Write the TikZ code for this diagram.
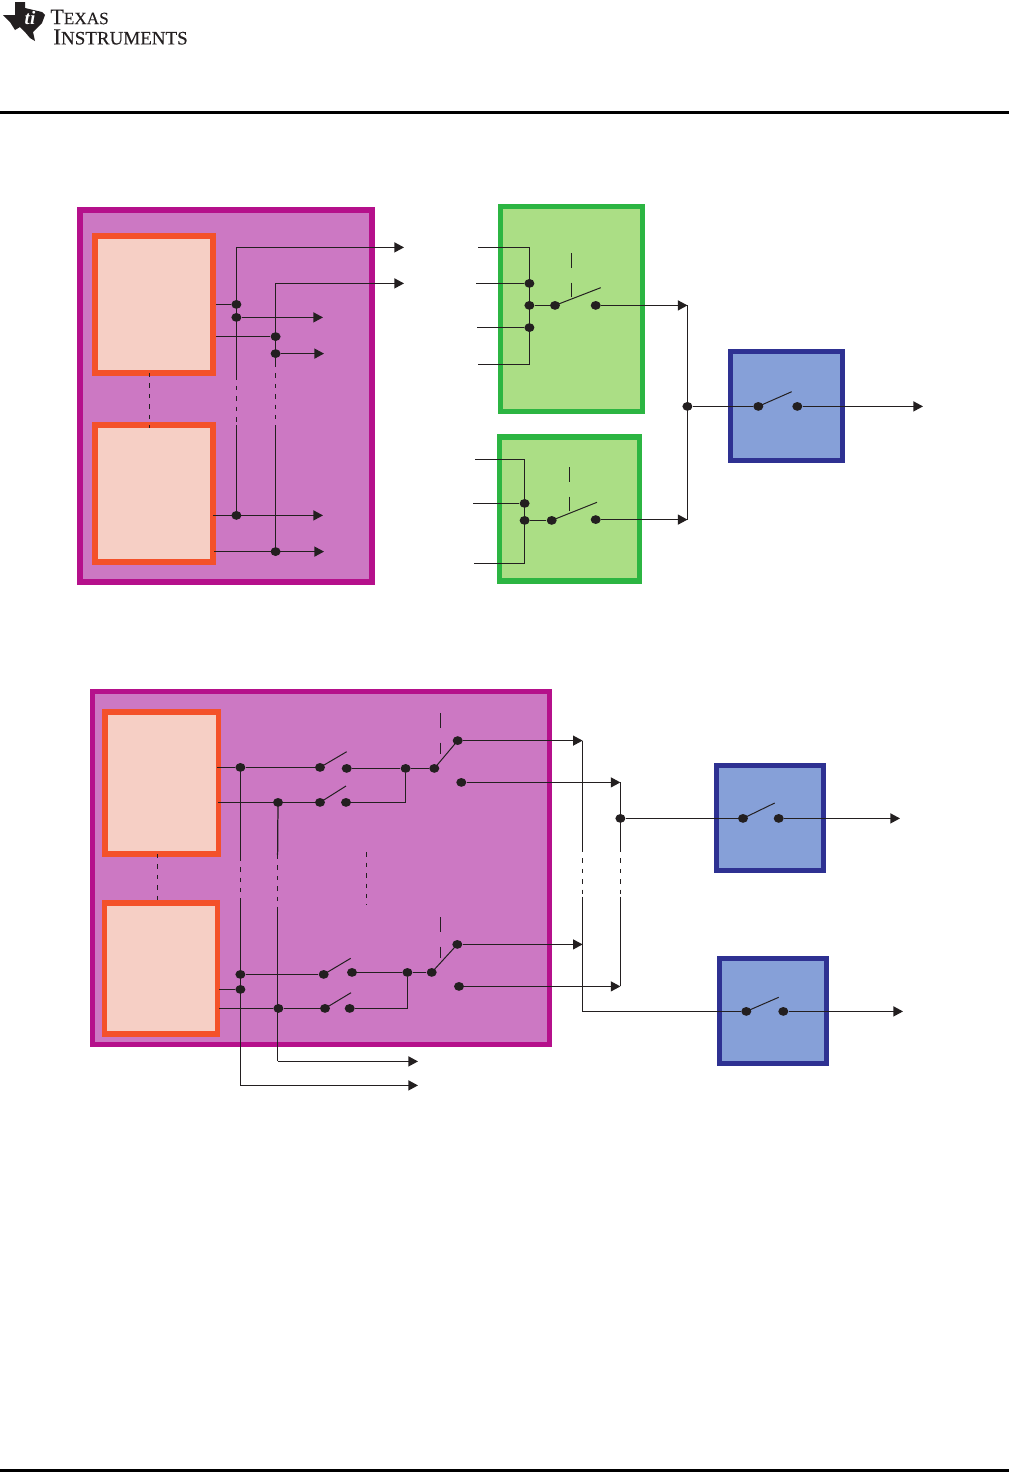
\documentclass[tikz,border=0pt]{standalone}
\usepackage{xcolor}
\usepackage{fontspec}
\setmainfont{Liberation Serif}
\newfontfamily\logofont[FakeBold=0.25]{Liberation Serif}
\usetikzlibrary{shapes.geometric,arrows.meta,positioning}
\definecolor{devpurple}{HTML}{B5108B}
\definecolor{devfill}{HTML}{CC78C3}
\definecolor{fetorange}{HTML}{F4512A}
\definecolor{fetfill}{HTML}{F6CFC5}
\definecolor{muxgreen}{HTML}{2CB542}
\definecolor{muxfill}{HTML}{ABDE85}
\definecolor{xbarblue}{HTML}{2E3192}
\definecolor{xbarfill}{HTML}{86A0D8}
\definecolor{inkline}{HTML}{231F20}
\tikzset{
  panel/.style={draw, line width=2.8pt, line join=miter},
  devbox/.style={panel, draw=devpurple, fill=devfill},
  fetbox/.style={panel, draw=fetorange, fill=fetfill},
  muxbox/.style={panel, draw=muxgreen, fill=muxfill},
  xbarbox/.style={panel, draw=xbarblue, fill=xbarfill},
  pin/.style={ellipse, fill=inkline, inner sep=0pt, minimum width=5pt, minimum height=4.4pt},
  wire/.style={draw=inkline, line width=0.62pt},
  sig/.style={wire, -{Triangle[length=4.8pt,width=5pt]}},
  gap/.style={wire, dash pattern=on 2.2pt off 3pt},
  ctrl/.style={wire, dash pattern=on 7.3pt off 7.5pt},
  blade/.style={draw=inkline, line width=0.5pt}
}
\begin{document}
\begin{tikzpicture}[x=0.5pt, y=-0.5pt]
  \useasboundingbox (0,0) rectangle (1008,1472);
  % page furniture
  \fill[black] (-1,111) rectangle (1009,114);
  \fill[black] (-1,1468.5) rectangle (1009,1473);
  \fill[inkline] (3,15) -- (15,15) -- (15,2) -- (25,2) -- (25,8) -- (42,12) -- (45,15) -- (42,23) -- (33,32) -- (35,41) -- (30,38) -- (25,32) -- (20,27) -- (15,30) -- (10,22) -- cycle;
  \node[white, font=\bfseries\itshape\fontsize{9.5pt}{9.5pt}\selectfont, inner sep=0pt] (logomark) at (30,18) {ti};
  \node[anchor=west, inner sep=0pt, font=\logofont\fontsize{11pt}{11pt}\selectfont, text=inkline] (logotop) at (50,17) {T\fontsize{8.6pt}{8.6pt}\selectfont EXAS};
  \node[anchor=west, inner sep=0pt, font=\logofont\fontsize{11.5pt}{11.5pt}\selectfont, text=inkline] (logobot) at (53,37) {I\fontsize{9.5pt}{9.5pt}\selectfont NSTRUMENTS};

  % upper drawing, boxes
  \draw[devbox] (80,210) rectangle (372,582);
  \draw[fetbox] (95,236) rectangle (213,373);
  \draw[fetbox] (95,425) rectangle (213,562);
  \draw[muxbox] (500.5,206.5) rectangle (642.5,411.5);
  \draw[muxbox] (499.5,437) rectangle (639.5,581);
  \draw[xbarbox] (730.5,351.5) rectangle (842.5,460.5);

  % upper drawing, source side
  \node[pin] (ua1) at (236.4,304.4) {};
  \node[pin] (ua2) at (236.4,317.4) {};
  \node[pin] (ua3) at (236.4,515.4) {};
  \node[pin] (ub1) at (275.6,336.6) {};
  \node[pin] (ub2) at (275.6,353.6) {};
  \node[pin] (ub3) at (275.6,551.6) {};
  \coordinate (uat) at (236.4,247.4);
  \coordinate (uac) at (236.4,375.5);
  \coordinate (uad) at (236.4,425);
  \coordinate (ubt) at (275.6,283.4);
  \coordinate (ubc) at (275.6,363);
  \coordinate (ubd) at (275.6,430);
  \coordinate (fa) at (149.4,373);
  \coordinate (fb) at (149.4,428);
  \coordinate (outa) at (404,247.4);
  \coordinate (outb) at (404,283.4);
  \draw[gap] (fa) -- (fb);
  \draw[wire] (uat) -- (ua1.center) -- (ua2.center) -- (uac);
  \draw[gap] (uac) -- (uad);
  \draw[wire] (uad) -- (ua3.center);
  \draw[wire] (ubt) -- (ub1.center) -- (ub2.center) -- (ubc);
  \draw[gap] (ubc) -- (ubd);
  \draw[wire] (ubd) -- (ub3.center);
  \draw[sig] (uat) -- (outa);
  \draw[sig] (ubt) -- (outb);
  \coordinate (ss1) at (216,304.4);
  \coordinate (ss2) at (216,336.6);
  \coordinate (ss3) at (213,515.4);
  \coordinate (ss4) at (214,551.6);
  \coordinate (se1) at (323,317.4);
  \coordinate (se2) at (324,353.6);
  \coordinate (se3) at (323,515.4);
  \coordinate (se4) at (324,551.6);
  \draw[wire] (ss1) -- (ua1);
  \draw[wire] (ss2) -- (ub1);
  \draw[sig] (ua2) -- (se1);
  \draw[sig] (ub2) -- (se2);
  \draw[sig] (ss3) -- (se3);
  \draw[sig] (ss4) -- (se4);

  % upper drawing, mux 1
  \coordinate (m1a) at (478,247.4);
  \coordinate (m1b) at (476,283.4);
  \coordinate (m1c) at (477,327.6);
  \coordinate (m1d) at (478,364.4);
  \node[pin] (m1p1) at (529.4,283.4) {};
  \node[pin] (m1p2) at (529.4,305.4) {};
  \node[pin] (m1p3) at (529.4,327.6) {};
  \node[pin] (m1sl) at (555,305.4) {};
  \node[pin] (m1sr) at (595.7,305.4) {};
  \draw[wire] (m1a) -| (m1p1.center) -- (m1p2.center) -- (m1p3.center) |- (m1d);
  \draw[wire] (m1b) -- (m1p1);
  \draw[wire] (m1c) -- (m1p3);
  \draw[wire] (m1p2) -- (m1sl);
  \coordinate (m1tip) at (600.7,287.7);
  \draw[blade] (m1sl.center) -- (m1tip);
  \coordinate (m1ct) at (571.4,253);
  \coordinate (m1cb) at (571.4,298);
  \draw[ctrl] (m1ct) -- (m1cb);

  % upper drawing, mux 2
  \coordinate (m2a) at (475,459.4);
  \coordinate (m2b) at (473,503.4);
  \coordinate (m2c) at (474,563.4);
  \node[pin] (m2p1) at (524.6,503.4) {};
  \node[pin] (m2p2) at (524.6,520.4) {};
  \node[pin] (m2sl) at (551.7,520.4) {};
  \node[pin] (m2sr) at (595.7,519.6) {};
  \draw[wire] (m2a) -| (m2p1.center) -- (m2p2.center) |- (m2c);
  \draw[wire] (m2b) -- (m2p1);
  \draw[wire] (m2p2) -- (m2sl);
  \coordinate (m2tip) at (597,502.3);
  \draw[blade] (m2sl.center) -- (m2tip);
  \coordinate (m2ct) at (569.4,467);
  \coordinate (m2cb) at (569.4,511);
  \draw[ctrl] (m2ct) -- (m2cb);

  % upper drawing, output stage
  \coordinate (bust) at (687.5,305.4);
  \coordinate (busb) at (687.5,519.6);
  \node[pin] (busj) at (687.4,406.4) {};
  \node[pin] (xsl) at (758.3,406.4) {};
  \node[pin] (xsr) at (797.3,406.4) {};
  \coordinate (xtip) at (791.7,391.7);
  \coordinate (xout) at (923,406.4);
  \draw[sig] (m1sr) -- (bust);
  \draw[sig] (m2sr) -- (busb);
  \draw[wire] (bust) -- (busb);
  \draw[wire] (busj) -- (xsl);
  \draw[blade] (xsl.center) -- (xtip);
  \draw[sig] (xsr) -- (xout);

  % lower drawing, boxes
  \draw[devbox] (92.5,691.5) rectangle (549.5,1044.5);
  \draw[fetbox] (105,712) rectangle (218.5,854);
  \draw[fetbox] (104.5,903) rectangle (217.5,1034);
  \draw[xbarbox] (716.5,765.5) rectangle (823.5,870.5);
  \draw[xbarbox] (719.5,958.5) rectangle (826.5,1063.5);

  % lower drawing, first channel pair
  \node[pin] (lc1) at (240.4,767.4) {};
  \node[pin] (lc2) at (278,802.4) {};
  \node[pin] (s1l) at (320,767.4) {};
  \node[pin] (s1r) at (346.7,768.4) {};
  \node[pin] (s2l) at (320,802.4) {};
  \node[pin] (s2r) at (346,802.4) {};
  \node[pin] (j1) at (405.6,768.4) {};
  \node[pin] (t1c) at (434.3,768.4) {};
  \node[pin] (t1a) at (457.7,740.6) {};
  \node[pin] (t1b) at (461.3,782.4) {};
  \coordinate (ls1) at (217,767.4);
  \coordinate (ls2) at (218,802.4);
  \coordinate (s1tip) at (346.7,751.7);
  \coordinate (s2tip) at (346,786);
  \coordinate (t1ct) at (440.4,713);
  \coordinate (t1cb) at (440.4,754.3);
  \draw[wire] (ls1) -- (lc1) -- (s1l);
  \draw[wire] (ls2) -- (lc2) -- (s2l);
  \draw[blade] (s1l.center) -- (s1tip);
  \draw[blade] (s2l.center) -- (s2tip);
  \draw[wire] (s1r) -- (j1) -- (t1c);
  \draw[wire] (s2r) -| (j1);
  \draw[blade] (t1c.center) -- (t1a.center);
  \draw[ctrl] (t1ct) -- (t1cb);

  % lower drawing, last channel pair
  \node[pin] (lc3) at (240.4,974.4) {};
  \node[pin] (lc4) at (240.4,989.4) {};
  \node[pin] (lc5) at (278.4,1008.4) {};
  \node[pin] (s4l) at (323.7,974.4) {};
  \node[pin] (s4r) at (352,972.4) {};
  \node[pin] (s5l) at (325,1008.4) {};
  \node[pin] (s5r) at (349.7,1008.4) {};
  \node[pin] (j2) at (407.4,972.4) {};
  \node[pin] (t2c) at (431.7,972.4) {};
  \node[pin] (t2a) at (457.3,944.4) {};
  \node[pin] (t2b) at (459,986.4) {};
  \coordinate (ls4) at (219,989.4);
  \coordinate (ls5) at (219,1008.4);
  \coordinate (s4tip) at (350.7,958.3);
  \coordinate (s5tip) at (351,992.7);
  \coordinate (t2ct) at (440.4,917);
  \coordinate (t2cb) at (440.4,958.3);
  \draw[wire] (lc3) -- (s4l);
  \draw[wire] (ls4) -- (lc4);
  \draw[wire] (ls5) -- (lc5) -- (s5l);
  \draw[blade] (s4l.center) -- (s4tip);
  \draw[blade] (s5l.center) -- (s5tip);
  \draw[wire] (s4r) -- (j2) -- (t2c);
  \draw[wire] (s5r) -| (j2);
  \draw[blade] (t2c.center) -- (t2a.center);
  \draw[ctrl] (t2ct) -- (t2cb);

  % lower drawing, verticals with gaps
  \coordinate (vaa) at (240.4,856.7);
  \coordinate (vab) at (240.4,903);
  \coordinate (vac) at (240.4,1085.4);
  \coordinate (vbb) at (277.6,855);
  \coordinate (vbc) at (277.6,906.7);
  \coordinate (vbd) at (277.6,1061.4);
  \coordinate (vout1) at (418,1061.4);
  \coordinate (vout2) at (418,1085.4);
  \coordinate (fc) at (157.4,854);
  \coordinate (fd) at (157.4,905.7);
  \coordinate (mda) at (366.4,852.3);
  \coordinate (mdb) at (366.4,905);
  \draw[gap] (fc) -- (fd);
  \draw[gap] (mda) -- (mdb);
  \draw[wire] (lc1.center) -- (vaa);
  \draw[gap] (vaa) -- (vab);
  \draw[wire] (vab) -- (vac);
  \draw[wire] (lc2.center) -- (vbb);
  \draw[gap] (vbb) -- (vbc);
  \draw[wire] (vbc) -- (vbd);
  \draw[sig] (vac) -- (vout2);
  \draw[sig] (vbd) -- (vout1);

  % lower drawing, buses and output switches
  \coordinate (bat) at (582.6,740.6);
  \coordinate (baa) at (582.6,848);
  \coordinate (bab) at (582.6,896.7);
  \coordinate (bam) at (582.6,944.4);
  \coordinate (bae) at (582.6,1011.4);
  \coordinate (bbt) at (620.4,782.4);
  \coordinate (bba) at (620.4,848);
  \coordinate (bbb) at (620.4,896.7);
  \coordinate (bbe) at (620.4,986.4);
  \node[pin] (bbj) at (620.4,818.4) {};
  \node[pin] (o1l) at (743,818.4) {};
  \node[pin] (o1r) at (778.7,818.4) {};
  \node[pin] (o2l) at (746.3,1011.4) {};
  \node[pin] (o2r) at (783.3,1011.4) {};
  \coordinate (o1tip) at (774.7,803);
  \coordinate (o2tip) at (778.7,997.3);
  \coordinate (o1out) at (900,818.4);
  \coordinate (o2out) at (903,1011.4);
  \draw[sig] (t1a) -- (bat);
  \draw[sig] (t1b) -- (bbt);
  \draw[sig] (t2a) -- (bam);
  \draw[sig] (t2b) -- (bbe);
  \draw[wire] (bat) -- (baa);
  \draw[gap] (baa) -- (bab);
  \draw[wire] (bab) -- (bae) -- (o2l);
  \draw[wire] (bbt) -- (bba);
  \draw[gap] (bba) -- (bbb);
  \draw[wire] (bbb) -- (bbe);
  \draw[wire] (bbj) -- (o1l);
  \draw[blade] (o1l.center) -- (o1tip);
  \draw[blade] (o2l.center) -- (o2tip);
  \draw[sig] (o1r) -- (o1out);
  \draw[sig] (o2r) -- (o2out);
\end{tikzpicture}
\end{document}
